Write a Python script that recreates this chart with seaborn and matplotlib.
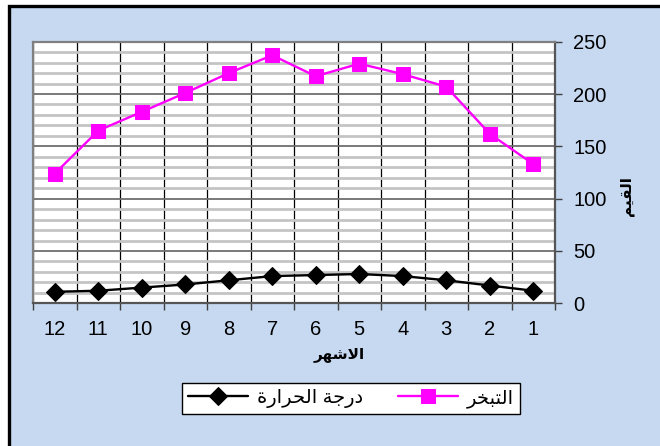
import numpy as np
import pandas as pd
import matplotlib
matplotlib.use("Agg")
import matplotlib.pyplot as plt
from matplotlib.patches import Rectangle
import seaborn as sns

sns.set_style("white")
plt.rcParams["font.family"] = ["Liberation Sans", "DejaVu Sans"]
plt.rcParams["text.color"] = "black"
plt.rcParams["xtick.color"] = "black"
plt.rcParams["ytick.color"] = "black"

# Months run right-to-left (1 on the right)
months = ["12", "11", "10", "9", "8", "7", "6", "5", "4", "3", "2", "1"]
evaporation = [124, 165, 183, 201, 220, 237, 217, 229, 219, 207, 162, 133]
temperature = [11, 12, 15, 18, 22, 26, 27, 28, 26, 22, 17, 12]
y_ticks = [0, 50, 100, 150, 200, 250]

# Arabic labels, written in shaped presentation forms and visual order
label_evap = "\uFEAE\uFEA8\uFE92\uFE98\uFEDF\uFE8D"                      # التبخر
label_temp = "\uFE93\uFEAD\uFE8D\uFEAE\uFEA4\uFEDF\uFE8D \uFE94\uFE9F\uFEAD\uFEA9"  # درجة الحرارة
x_title = "\uFEAE\uFEEC\uFEB7\uFEFB\uFE8D"                               # الاشهر
y_title = "\uFEE2\uFEF4\uFED8\uFEDF\uFE8D"                               # القيم

df = pd.DataFrame({
    "pos": np.arange(len(months)),
    "month": months,
    "evap": evaporation,
    "temp": temperature,
})

W, H = 660, 446
fig = plt.figure(figsize=(W / 100, H / 100), dpi=100, facecolor="white")

# Chart area panel with dark frame
frame = Rectangle((9 / W, 1 - 700 / H), 1.2, 700 / H - 5.5 / H,
                  transform=fig.transFigure, facecolor="#C6D9F1",
                  edgecolor="black", linewidth=2.4, zorder=-10)
fig.patches.append(frame)

ax = fig.add_axes([33 / W, 1 - 303.3 / H, (555 - 33) / W, (303.3 - 41.7) / H])
ax.set_zorder(1)
ax.set_facecolor("white")

sns.lineplot(data=df, x="pos", y="temp", ax=ax, color="black", marker="D",
             markersize=9, markeredgecolor="black", linewidth=1.7,
             label=label_temp, legend=False, zorder=5)
sns.lineplot(data=df, x="pos", y="evap", ax=ax, color="#FF00FF", marker="s",
             markersize=10, markeredgecolor="#FF00FF", linewidth=1.7,
             label=label_evap, legend=False, zorder=5)

ax.set_xlim(-0.5, len(months) - 0.5)
ax.set_ylim(0, 250)

# Category boundaries carry the tick marks and vertical grid lines
ax.set_xticks(np.arange(-0.5, len(months), 1.0))
ax.set_xticklabels([])
ax.set_xticks(df["pos"], minor=True)
ax.set_xticklabels(months, minor=True)
ax.tick_params(axis="x", which="major", direction="out", length=5,
               width=1, color="#404040", bottom=True)
ax.tick_params(axis="x", which="minor", length=0, pad=12, labelsize=14.5)

ax.yaxis.tick_right()
ax.set_yticks(y_ticks)
ax.set_yticks(np.arange(0, 251, 10), minor=True)
ax.tick_params(axis="y", which="major", direction="out", length=5, width=1,
               color="#404040", pad=8, labelsize=14.5, right=True, left=False)
ax.tick_params(axis="y", which="minor", length=0)

ax.yaxis.grid(True, which="minor", color="#C4C4C4", linewidth=2)
ax.yaxis.grid(True, which="major", color="#6E6E6E", linewidth=1.3)
ax.xaxis.grid(True, which="major", color="black", linewidth=0.9)
ax.set_axisbelow(True)

for side in ["left", "top", "bottom", "right"]:
    ax.spines[side].set_color("#808080")
    ax.spines[side].set_linewidth(1.6)
ax.spines["bottom"].set_color("#555555")
ax.spines["right"].set_color("#555555")

ax.set_xlabel("")
ax.set_ylabel("")

fig.text(339 / W, 1 - 355 / H, x_title, ha="center", va="center",
         fontsize=11, fontweight="bold", color="black")
fig.text(627 / W, 1 - 196 / H, y_title, ha="center", va="center",
         fontsize=11, fontweight="bold", rotation=90, color="black")

handles, labels = ax.get_legend_handles_labels()
leg = fig.legend(handles, labels, loc="center", ncol=2,
                 bbox_to_anchor=(351 / W, 1 - 398.5 / H), fontsize=14,
                 frameon=True, fancybox=False, handlelength=3.1,
                 columnspacing=1.8, handletextpad=0.45, borderpad=0.3)
leg.get_frame().set_edgecolor("black")
leg.get_frame().set_linewidth(1.0)
leg.get_frame().set_facecolor("white")
leg.get_frame().set_alpha(1)

fig.savefig("out.png", dpi=100, facecolor=fig.get_facecolor())
